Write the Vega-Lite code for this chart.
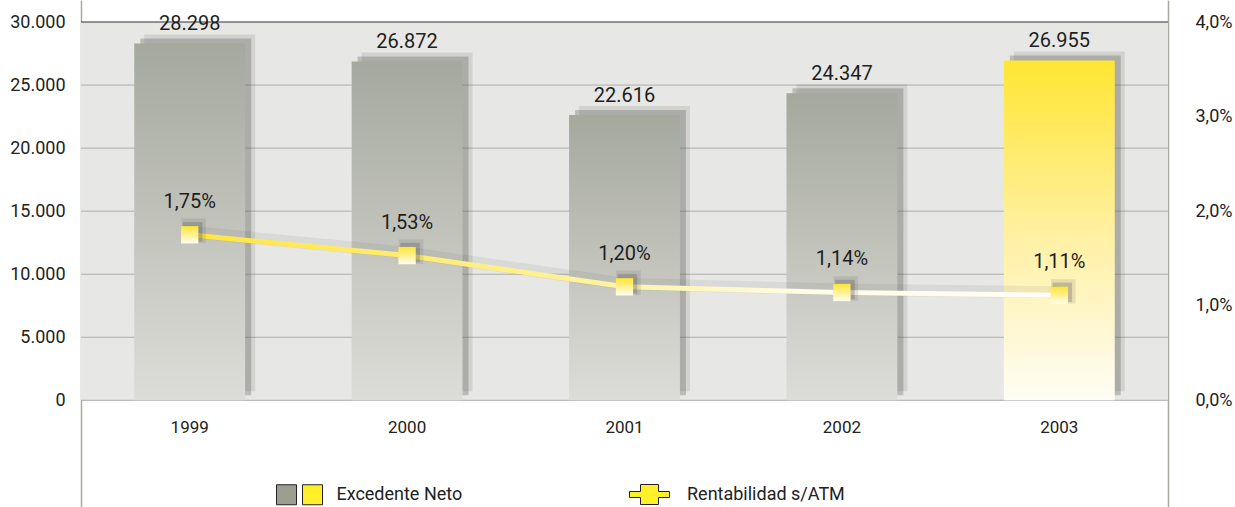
{
  "$schema": "https://vega.github.io/schema/vega-lite/v6.json",
  "width": 1087,
  "height": 507,
  "autosize": {"type": "none"},
  "padding": {"left": 81, "top": 0, "right": 67, "bottom": 0},
  "background": "#ffffff",
  "config": {
    "locale": {"number": {"decimal": ",", "thousands": ".", "grouping": [3], "currency": ["", " €"]}},
    "view": {"stroke": null},
    "font": "Roboto",
    "axis": {"labelFont": "Roboto", "labelColor": "#222222", "labelFontSize": 18, "ticks": false, "grid": false, "domainColor": "#a9aa9c", "domainWidth": 1.5},
    "legend": {"labelFont": "Roboto", "labelFontSize": 18, "labelColor": "#222222", "symbolSize": 400, "padding": 0, "symbolStrokeColor": "#222222", "symbolStrokeWidth": 1, "symbolOpacity": 1}
  },
  "datasets": {
    "serie": [
      {"anio": "1999", "excedente": 28298, "rentab": 0.0175},
      {"anio": "2000", "excedente": 26872, "rentab": 0.0153},
      {"anio": "2001", "excedente": 22616, "rentab": 0.0120},
      {"anio": "2002", "excedente": 24347, "rentab": 0.0114},
      {"anio": "2003", "excedente": 26955, "rentab": 0.0111}
    ],
    "rejilla": [{"v": 0}, {"v": 5000}, {"v": 10000}, {"v": 15000}, {"v": 20000}, {"v": 25000}]
  },
  "layer": [
    {
      "layer": [
        {
          "data": {"values": [{"desde": 0, "hasta": 30000}]},
          "mark": {"type": "rect", "color": "#e7e8e5"},
          "encoding": {
            "y": {"field": "desde", "type": "quantitative", "title": null,
              "scale": {"domain": [-8461, 31745], "nice": false, "zero": false},
              "axis": {"orient": "left", "values": [0, 5000, 10000, 15000, 20000, 25000, 30000], "format": ",d", "labelPadding": 16, "title": null}},
            "y2": {"field": "hasta"}
          }
        },
        {
          "data": {"name": "rejilla"},
          "mark": {"type": "rule", "color": "#adaeaa", "strokeWidth": 1},
          "encoding": {"y": {"field": "v", "type": "quantitative", "title": null}}
        },
        {
          "data": {"values": [{"v": 30000}]},
          "mark": {"type": "rule", "color": "#333333", "strokeWidth": 1.2},
          "encoding": {"y": {"field": "v", "type": "quantitative", "title": null}}
        },
        {
          "data": {"name": "serie"},
          "mark": {"type": "bar", "color": "#55574f", "opacity": 0.14, "xOffset": 10, "yOffset": -9},
          "encoding": {
            "x": {"field": "anio", "type": "ordinal", "title": null, "scale": {"paddingInner": 0.49, "paddingOuter": 0.245},
              "axis": {"orient": "bottom", "offset": -107, "labelPadding": 19, "domain": false, "ticks": false, "labelAngle": 0, "labelFontSize": 17, "title": null}},
            "y": {"field": "excedente", "type": "quantitative", "title": null}
          }
        },
        {
          "data": {"name": "serie"},
          "mark": {"type": "bar", "color": "#55574f", "opacity": 0.3, "xOffset": 6, "yOffset": -5},
          "encoding": {
            "x": {"field": "anio", "type": "ordinal", "title": null},
            "y": {"field": "excedente", "type": "quantitative", "title": null}
          }
        },
        {
          "data": {"name": "serie"},
          "transform": [{"filter": "datum.anio != '2003'"}],
          "mark": {"type": "bar", "fill": {"gradient": "linear", "x1": 0, "y1": 0, "x2": 0, "y2": 1,
            "stops": [{"offset": 0, "color": "#a5a89d"}, {"offset": 0.5, "color": "#c1c3bb"}, {"offset": 1, "color": "#dcddd8"}]}},
          "encoding": {
            "x": {"field": "anio", "type": "ordinal", "title": null},
            "y": {"field": "excedente", "type": "quantitative", "title": null}
          }
        },
        {
          "data": {"name": "serie"},
          "transform": [{"filter": "datum.anio == '2003'"}],
          "mark": {"type": "bar", "fill": {"gradient": "linear", "x1": 0, "y1": 0, "x2": 0, "y2": 1,
            "stops": [{"offset": 0, "color": "#ffe632"}, {"offset": 0.5, "color": "#fff0a0"}, {"offset": 1, "color": "#fffdf5"}]}},
          "encoding": {
            "x": {"field": "anio", "type": "ordinal", "title": null},
            "y": {"field": "excedente", "type": "quantitative", "title": null}
          }
        },
        {
          "data": {"name": "serie"},
          "mark": {"type": "text", "dy": -19, "fontSize": 20, "color": "#1e1e1e", "font": "Roboto"},
          "encoding": {
            "x": {"field": "anio", "type": "ordinal", "title": null},
            "y": {"field": "excedente", "type": "quantitative", "title": null},
            "text": {"field": "excedente", "type": "quantitative", "format": ",d"}
          }
        },
        {
          "data": {"values": []},
          "mark": {"type": "square", "filled": true, "opacity": 1, "stroke": "#222222", "strokeWidth": 1},
          "encoding": {
            "fill": {"field": "serie", "type": "nominal",
              "scale": {"domain": ["_", "Excedente Neto"], "range": ["#9c9f8f", "#fff02a"]},
              "legend": {"orient": "none", "legendX": 195, "legendY": 484, "direction": "horizontal", "title": null,
                "columnPadding": 1, "labelOffset": 0, "symbolType": "square",
                "symbolStrokeColor": "#222222", "symbolStrokeWidth": 1, "symbolOpacity": 1,
                "labelExpr": "datum.label == '_' ? '' : '\\u200b\\u00a0\\u00a0\\u00a0' + datum.label"}}
          }
        },
        {
          "data": {"values": []},
          "mark": {"type": "point", "filled": true, "shape": "M-3,-0.3H-1.9V-1H-0.1V-0.3H1V0.3H-0.1V1H-1.9V0.3H-3Z", "opacity": 1, "stroke": "#222222", "strokeWidth": 1},
          "encoding": {
            "color": {"field": "serie2", "type": "nominal",
              "scale": {"domain": ["Rentabilidad s/ATM"], "range": ["#fff02a"]},
              "legend": {"orient": "none", "legendX": 568, "legendY": 484, "direction": "horizontal", "title": null,
                "labelOffset": 17, "symbolType": "M-3,-0.3H-1.9V-1H-0.1V-0.3H1V0.3H-0.1V1H-1.9V0.3H-3Z",
                "symbolStrokeColor": "#222222", "symbolStrokeWidth": 1, "symbolOpacity": 1}}
          }
        }
      ]
    },
    {
      "data": {"name": "serie"},
      "layer": [
        {
          "mark": {"type": "line", "stroke": "#3c3c3a", "opacity": 0.08, "strokeWidth": 12, "yOffset": -3},
          "encoding": {
            "x": {"field": "anio", "type": "ordinal", "title": null},
            "y": {"field": "rentab", "type": "quantitative", "title": null,
              "scale": {"domain": [-0.011282, 0.042327], "nice": false, "zero": false},
              "axis": {"orient": "right", "values": [0, 0.01, 0.02, 0.03, 0.04], "format": ".1%", "labelPadding": 27, "title": null}}
          }
        },
        {
          "mark": {"type": "line", "strokeWidth": 5, "stroke": {"gradient": "linear", "x1": 0, "y1": 0, "x2": 1, "y2": 0,
            "stops": [{"offset": 0, "color": "#ffe640"}, {"offset": 0.45, "color": "#fff29a"}, {"offset": 0.7, "color": "#fffbe4"}, {"offset": 1, "color": "#fffef8"}]}},
          "encoding": {
            "x": {"field": "anio", "type": "ordinal", "title": null},
            "y": {"field": "rentab", "type": "quantitative", "title": null}
          }
        },
        {
          "mark": {"type": "point", "shape": "square", "filled": true, "size": 600, "color": "#444444", "opacity": 0.12, "xOffset": 4, "yOffset": -4},
          "encoding": {
            "x": {"field": "anio", "type": "ordinal", "title": null},
            "y": {"field": "rentab", "type": "quantitative", "title": null}
          }
        },
        {
          "mark": {"type": "point", "shape": "square", "filled": true, "size": 380, "color": "#444444", "opacity": 0.25, "xOffset": 3, "yOffset": -3},
          "encoding": {
            "x": {"field": "anio", "type": "ordinal", "title": null},
            "y": {"field": "rentab", "type": "quantitative", "title": null}
          }
        },
        {
          "mark": {"type": "point", "shape": "square", "filled": true, "size": 300, "strokeWidth": 0, "opacity": 1,
            "fill": {"gradient": "linear", "x1": 0, "y1": 0, "x2": 0, "y2": 1,
              "stops": [{"offset": 0, "color": "#ffe534"}, {"offset": 1, "color": "#fffdf2"}]}},
          "encoding": {
            "x": {"field": "anio", "type": "ordinal", "title": null},
            "y": {"field": "rentab", "type": "quantitative", "title": null}
          }
        },
        {
          "mark": {"type": "text", "dy": -33, "fontSize": 20, "color": "#1e1e1e", "font": "Roboto"},
          "encoding": {
            "x": {"field": "anio", "type": "ordinal", "title": null},
            "y": {"field": "rentab", "type": "quantitative", "title": null},
            "text": {"field": "rentab", "type": "quantitative", "format": ".2%"}
          }
        }
      ]
    }
  ],
  "resolve": {"scale": {"y": "independent"}}
}
